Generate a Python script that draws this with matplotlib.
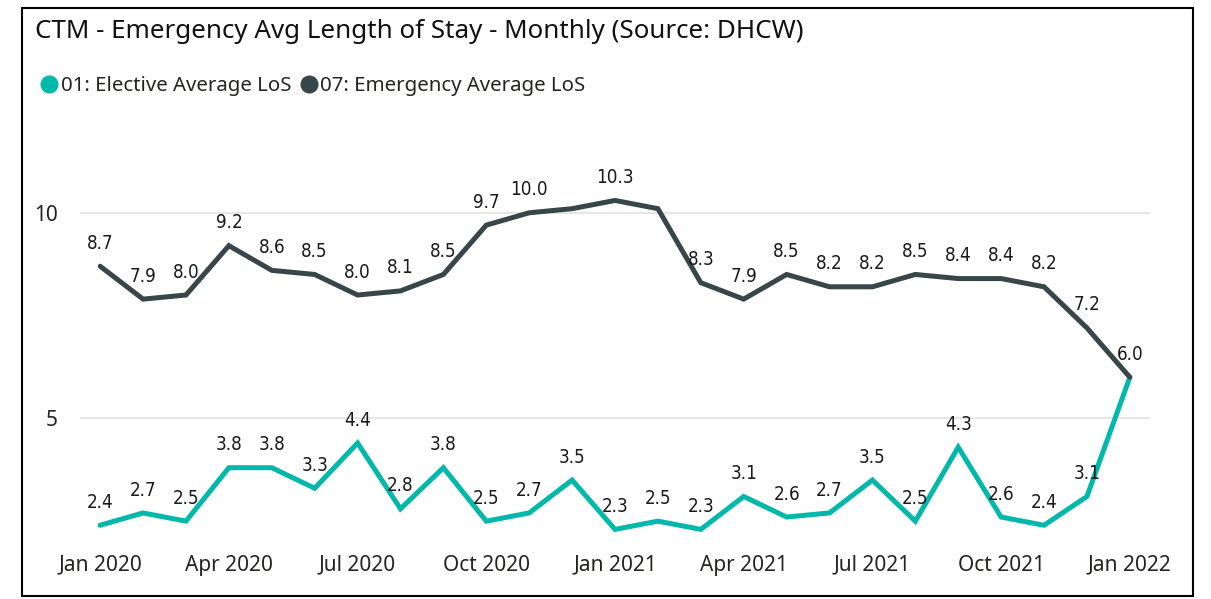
import matplotlib.pyplot as plt
from matplotlib.lines import Line2D
from matplotlib.patches import Rectangle

months = ["Jan 2020", "Feb 2020", "Mar 2020", "Apr 2020", "May 2020", "Jun 2020",
          "Jul 2020", "Aug 2020", "Sep 2020", "Oct 2020", "Nov 2020", "Dec 2020",
          "Jan 2021", "Feb 2021", "Mar 2021", "Apr 2021", "May 2021", "Jun 2021",
          "Jul 2021", "Aug 2021", "Sep 2021", "Oct 2021", "Nov 2021", "Dec 2021",
          "Jan 2022"]
elective = [2.4, 2.7, 2.5, 3.8, 3.8, 3.3, 4.4, 2.8, 3.8, 2.5, 2.7, 3.5,
            2.3, 2.5, 2.3, 3.1, 2.6, 2.7, 3.5, 2.5, 4.3, 2.6, 2.4, 3.1, 6.0]
emergency = [8.7, 7.9, 8.0, 9.2, 8.6, 8.5, 8.0, 8.1, 8.5, 9.7, 10.0, 10.1,
             10.3, 10.1, 8.3, 7.9, 8.5, 8.2, 8.2, 8.5, 8.4, 8.4, 8.2, 7.2, 6.0]
# points whose data label is hidden in the original (overlap)
elective_hidden = ["Jan 2022"]
emergency_hidden = ["Dec 2020", "Feb 2021"]
tick_months = ["Jan 2020", "Apr 2020", "Jul 2020", "Oct 2020", "Jan 2021",
               "Apr 2021", "Jul 2021", "Oct 2021", "Jan 2022"]

c_elec = "#01B8AA"
c_emer = "#374649"
txt = "#252423"

plt.rcParams["font.family"] = ["Noto Sans", "DejaVu Sans"]

fig = plt.figure(figsize=(12.11, 5.99), dpi=100)
ax = fig.add_axes([80 / 1211, 1 - 545 / 599, 1070 / 1211, 435 / 599])

x = list(range(len(months)))
ax.plot(x, elective, color=c_elec, lw=3.6, solid_capstyle="round", solid_joinstyle="miter")
ax.plot(x, emergency, color=c_emer, lw=3.6, solid_capstyle="round", solid_joinstyle="miter")

for vals, hidden in [(elective, elective_hidden), (emergency, emergency_hidden)]:
    for i, v in enumerate(vals):
        if months[i] in hidden:
            continue
        ax.annotate(f"{v:.1f}", (i, v), xytext=(0, 16.5), textcoords="offset points",
                    ha="center", va="center", fontsize=13.5, color="#1a1a1a",
                    family="DejaVu Sans", fontstretch="condensed")

ax.set_xlim(-0.47, 24.47)
ax.set_ylim(1.92, 12.5)
ax.set_yticks([5, 10])
ax.set_yticklabels(["5", "10"])
ax.set_xticks([months.index(m) for m in tick_months])
ax.set_xticklabels(tick_months)
ax.tick_params(axis="both", length=0, labelsize=15, labelcolor=txt)
ax.tick_params(axis="x", pad=7)
ax.tick_params(axis="y", pad=16)
ax.grid(axis="y", color="#e6e6e6", lw=1.5)
ax.set_axisbelow(True)
for s in ax.spines.values():
    s.set_visible(False)

fig.text(35 / 1211, 1 - 32 / 599, "CTM - Emergency Avg Length of Stay - Monthly (Source: DHCW)",
         fontsize=18.7, color="#111111", va="center", ha="left")

handles = [Line2D([], [], marker="o", ls="", color=c_elec, markersize=12),
           Line2D([], [], marker="o", ls="", color=c_emer, markersize=12)]
fig.legend(handles, ["01: Elective Average LoS", "07: Emergency Average LoS"],
           loc="center left", bbox_to_anchor=(28 / 1211, 1 - 86 / 599), ncol=2,
           frameon=False, fontsize=14.7, handletextpad=0.0, columnspacing=0.3,
           handlelength=1.1, borderpad=0, labelcolor=txt)

fig.patches.append(Rectangle((22 / 1211, 1 - 596 / 599), 1171 / 1211, 588 / 599,
                             transform=fig.transFigure, fill=False, ec="black", lw=1.5))

fig.savefig("out.png", dpi=100)
